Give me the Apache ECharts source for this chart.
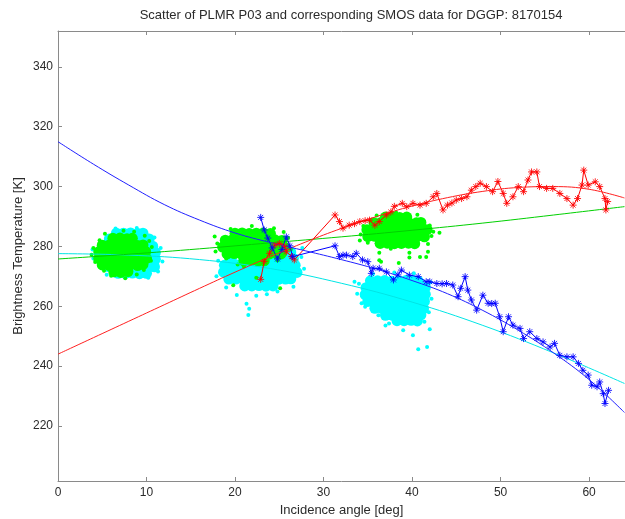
<!DOCTYPE html>
<html>
<head>
<meta charset="utf-8">
<script src="https://cdn.jsdelivr.net/npm/echarts@6/dist/echarts.min.js"></script>
<style>
html,body{margin:0;padding:0;background:#fff;}
#chart{width:625px;height:519px;}
</style>
</head>
<body>
<div id="chart"></div>
<script>
var titleText = 'Scatter of PLMR P03 and corresponding SMOS data for DGGP: 8170154';
var xName = 'Incidence angle [deg]';
var yName = 'Brightness Temperature [K]';
var xTicks = [0, 10, 20, 30, 40, 50, 60];
var yTicks = [220, 240, 260, 280, 300, 320, 340];

// SMOS-like clouds (cyan) - dense cores
var cyanCore = [
  [6.8,271.0],[7.6,271.0],[8.4,271.1],[9.2,270.9],[10.0,271.0],
  [5.6,273.3],[6.4,273.3],[7.2,273.4],[8.0,273.2],[8.8,273.3],[9.6,273.4],[10.4,273.3],[10.9,273.2],
  [5.0,275.6],[5.8,275.6],[6.6,275.7],[7.4,275.5],[8.2,275.6],[9.0,275.7],[9.8,275.6],[10.6,275.5],[11.0,275.7],
  [4.8,277.9],[5.6,277.9],[6.4,278.0],[7.2,277.8],[8.0,277.9],[8.8,278.0],[9.6,277.9],[10.4,277.8],[11.0,278.0],
  [5.2,280.2],[6.0,280.2],[6.8,280.3],[7.6,280.1],[8.4,280.2],[9.2,280.3],[10.0,280.2],[10.7,280.1],
  [5.8,282.5],[6.6,282.5],[7.4,282.6],[8.2,282.4],[9.0,282.5],[9.8,282.6],[10.3,282.5],
  [6.6,284.4],[7.4,284.4],[8.2,284.5],[9.0,284.3],[9.6,284.4],
  [21.1,266.8],[21.9,266.8],[22.7,266.9],[23.5,266.7],[24.3,266.8],
  [19.3,269.1],[20.1,269.1],[20.9,269.2],[21.7,269.0],[22.5,269.1],[23.3,269.2],[24.1,269.1],[24.9,269.0],[25.7,269.1],[26.3,269.2],
  [18.7,271.4],[19.5,271.4],[20.3,271.5],[21.1,271.3],[21.9,271.4],[22.7,271.5],[23.5,271.4],[24.3,271.3],[25.1,271.4],[25.9,271.5],[26.7,271.4],[27.0,271.3],
  [18.8,273.7],[19.6,273.7],[20.4,273.8],[21.2,273.6],[22.0,273.7],[22.8,273.8],[23.6,273.7],[24.4,273.6],[25.2,273.7],[26.0,273.8],[26.8,273.7],
  [19.6,276.0],[21.2,276.0],[22.8,276.1],[24.4,275.9],[25.2,276.0],[26.0,276.1],[26.6,276.0],
  [20.5,278.2],[23.0,278.2],[25.6,278.3],[26.3,278.1],
  [35.3,268.5],[36.1,268.5],[36.9,268.6],[37.7,268.4],[38.5,268.5],[39.3,268.6],[40.1,268.5],[40.7,268.4],
  [34.8,266.2],[35.6,266.2],[36.4,266.3],[37.2,266.1],[38.0,266.2],[38.8,266.3],[39.6,266.2],[40.4,266.1],[41.2,266.2],[41.5,266.3],
  [34.7,263.9],[35.5,263.9],[36.3,264.0],[37.1,263.8],[37.9,263.9],[38.7,264.0],[39.5,263.9],[40.3,263.8],[41.1,263.9],[41.5,264.0],
  [35.0,261.6],[35.8,261.6],[36.6,261.7],[37.4,261.5],[38.2,261.6],[39.0,261.7],[39.8,261.6],[40.6,261.5],[41.4,261.6],
  [35.8,259.3],[36.6,259.3],[37.4,259.4],[38.2,259.2],[39.0,259.3],[39.8,259.4],[40.6,259.3],[41.3,259.2],
  [37.0,257.0],[37.8,257.0],[38.6,257.1],[39.4,256.9],[40.2,257.0],[41.0,257.1],
  [38.3,255.2],[39.1,255.2],[39.9,255.3],[40.6,255.1]
];
// cyan scattered outliers
var cyanEdge = [
  [11.8,275.0],[11.6,279.5],[4.0,276.0],[6.5,286.0],[8.9,286.2],[10.9,283.0],[10.2,269.5],[5.5,270.5],[11.3,271.6],[3.9,279.0],
  [21.5,257.1],[21.3,260.8],[21.6,259.2],[20.2,263.8],[22.4,263.5],[19.0,266.3],[24.8,264.9],[26.6,266.5],[27.8,272.5],[27.5,276.5],[18.1,275.2],[23.6,264.0],[17.9,270.0],[27.6,279.5],
  [34.0,267.5],[33.8,264.2],[34.3,261.0],[42.1,268.0],[42.2,262.5],[41.9,258.0],[35.6,270.8],[38.0,271.3],[40.2,271.0],[36.2,257.0],
  [37.4,254.2],[41.4,254.8],[39.0,252.0],[40.1,250.3],[40.7,245.6],[41.7,246.4],[42.0,252.3],[37.0,253.6],[33.5,268.2],[34.7,259.8]
];
// PLMR-like clouds (green) - dense cores
var greenCore = [
  [6.3,271.5],[7.1,271.3],[7.9,271.6],
  [5.0,273.8],[5.8,273.6],[6.6,273.9],[7.4,273.7],[8.2,273.9],[9.0,273.6],[9.6,274.0],
  [4.6,276.0],[5.4,276.1],[6.2,275.9],[7.0,276.0],[7.8,276.2],[8.6,275.9],[9.4,276.1],[10.0,276.0],
  [4.6,278.2],[5.3,278.3],[6.1,278.1],[6.9,278.2],[7.7,278.4],[8.5,278.1],[9.3,278.2],[9.9,278.3],
  [5.0,280.4],[5.8,280.5],[6.6,280.3],[7.4,280.4],[8.2,280.6],[9.0,280.3],[9.6,280.5],
  [6.2,282.7],[7.0,282.8],[7.8,282.6],[8.4,282.7],
  [21.0,275.2],[21.8,275.3],[22.6,275.1],[23.3,275.2],
  [19.1,277.5],[19.9,277.6],[20.7,277.4],[21.5,277.5],[22.3,277.6],[23.1,277.4],[23.9,277.5],[24.7,277.6],[25.2,277.5],
  [18.6,279.8],[19.4,279.9],[20.2,279.7],[21.0,279.8],[21.8,279.9],[22.6,279.7],[23.4,279.8],[24.2,279.9],[25.0,279.7],[25.6,279.8],
  [18.9,282.1],[19.7,282.2],[20.5,282.0],[21.3,282.1],[22.1,282.2],[22.9,282.0],[23.7,282.1],[24.5,282.2],[25.3,282.0],
  [20.0,284.4],[20.8,284.5],[21.6,284.3],[22.4,284.4],[23.2,284.5],[24.0,284.3],
  [36.4,281.0],[37.2,281.1],[38.0,280.9],[38.8,281.0],[39.6,281.1],[40.3,280.9],
  [35.0,283.3],[35.8,283.4],[36.6,283.2],[37.4,283.3],[38.2,283.4],[39.0,283.2],[39.8,283.3],[40.6,283.4],[41.4,283.2],
  [34.9,285.6],[35.7,285.7],[36.5,285.5],[37.3,285.6],[38.1,285.7],[38.9,285.5],[39.7,285.6],[40.5,285.7],[41.3,285.5],[41.7,285.6],
  [35.7,287.9],[36.5,288.0],[37.3,287.8],[38.1,287.9],[38.9,288.0],[39.7,287.8],[40.5,287.9],[41.0,288.0],
  [37.0,289.8],[37.8,289.9],[38.6,289.7],[39.4,289.8]
];
// green scattered outliers
var greenEdge = [
  [4.0,279.5],[4.2,274.8],[3.8,277.2],[10.5,275.2],[10.6,279.8],[9.8,283.6],[5.3,284.2],[7.4,285.2],[8.6,284.9],[6.0,270.2],
  [7.6,269.4],[8.9,270.6],[9.7,272.1],[4.7,282.1],[5.2,271.9],[10.3,281.8],
  [18.0,281.0],[17.8,278.3],[26.3,279.0],[26.0,282.8],[19.5,285.8],[21.9,286.8],[24.4,286.1],[25.5,284.8],[20.3,274.0],[24.8,275.3],
  [19.0,276.0],[21.0,273.3],[17.7,283.3],[22.4,269.5],[19.8,267.0],[25.1,266.0],
  [34.2,284.0],[34.5,286.8],[42.2,283.5],[42.0,287.0],[36.0,290.3],[40.6,290.6],[38.2,291.3],[35.0,281.2],[41.8,280.8],
  [36.3,277.9],[39.7,277.9],[40.9,276.5],[41.8,278.2],[36.5,274.9],[38.5,274.5],[39.7,276.3],[36.3,275.4],[41.6,276.5],
  [42.4,284.9],[43.1,284.6],[34.1,282.0],[36.0,281.0],[37.6,279.2]
];
// PLMR observations with markers
var redObs = [
  [22.9,269.0],[23.3,275.0],[23.9,277.7],[24.5,280.4],[25.0,281.0],[25.6,280.0],[25.8,278.2],[26.4,276.6],[26.7,275.5],
  [31.3,290.5],[31.8,288.3],[32.2,286.1],[32.9,287.1],[33.5,287.6],[34.1,288.3],[34.7,288.6],[35.2,288.8],[35.8,287.1],[36.3,288.3],
  [37.1,290.5],[37.6,291.5],[38.0,293.4],[38.9,294.4],[39.4,293.3],[40.1,294.4],[40.9,293.8],[41.6,294.4],[42.4,296.6],[42.8,297.7],
  [43.5,292.2],[44.0,293.8],[44.5,294.5],[45.0,295.5],[45.6,296.0],[46.2,296.6],[46.7,298.8],[47.2,300.0],[47.7,301.1],[48.4,300.0],
  [49.1,298.3],[49.7,301.7],[50.3,297.7],[50.7,294.4],[51.4,296.6],[52.0,300.0],[52.6,298.3],[53.1,302.2],[53.5,304.9],[54.1,304.9],
  [54.4,300.0],[55.2,299.4],[55.9,299.4],[56.7,297.7],[57.5,296.0],[58.2,293.8],[58.7,296.0],[59.2,300.5],[59.4,305.5],[59.9,300.5],
  [60.7,301.6],[61.2,300.0],[61.8,296.0],[61.9,292.2],[62.1,295.0]
];
var blueObs = [
  [22.9,289.7],[23.3,285.5],[23.7,282.8],[24.2,279.5],[24.8,275.8],[25.3,279.0],[25.8,283.2],[26.2,280.2],[26.5,276.6],
  [31.3,280.2],[31.8,276.6],[32.2,277.1],[32.6,277.1],[33.3,276.6],[33.7,277.7],[34.4,275.5],[35.0,274.9],[35.4,271.0],[35.6,272.7],
  [36.3,272.7],[37.1,271.5],[37.9,268.8],[38.4,270.5],[38.8,272.1],[39.7,270.4],[40.7,269.9],[41.6,268.2],[42.0,268.2],[42.8,267.6],
  [43.4,267.5],[43.9,267.6],[44.6,267.1],[45.2,263.2],[45.5,266.0],[46.0,269.9],[46.3,265.4],[46.7,262.1],[47.3,258.7],[48.0,263.7],
  [48.6,261.0],[49.0,260.9],[49.4,261.0],[49.9,256.5],[50.3,251.5],[50.9,256.5],[51.4,253.7],[52.2,252.6],[52.6,249.2],[53.3,251.5],
  [54.1,249.2],[54.8,248.1],[55.6,246.4],[56.1,247.6],[56.7,243.6],[57.5,243.1],[58.2,243.1],[58.8,240.9],[59.3,238.6],[59.9,237.0],
  [60.3,233.6],[60.9,233.1],[61.2,234.7],[61.6,230.8],[61.8,227.5],[62.2,231.9]
];
// fitted curves
var redFit = [[0,244],[4,249.5],[8,255],[12,260.5],[16,266],[20,271.4],[24,276.6],[28,281.5],[32,286],[36,290],[40,293.5],[44,296.3],[48,298.4],[52,299.7],[56,300],[60,299.1],[64,296.2]];
var blueFit = [[0,315],[4,307.5],[8,300.5],[12,294],[16,288.8],[20,284.5],[24,281.3],[28,278.5],[32,275.6],[36,272.4],[40,268.6],[44,264.2],[48,258.6],[52,252],[56,244.4],[60,235.5],[64,224.5]];
var greenFit = [[0,275.8],[8,277.4],[16,279.2],[24,281.2],[32,283.2],[40,285.4],[48,287.8],[56,290.5],[64,293.3]];
var cyanFit = [[0,277.6],[8,277.1],[16,275.6],[24,272.6],[32,267.7],[40,261.4],[48,253.6],[56,244.4],[64,234.2]];

var FONT = 'Liberation Sans, Arial, Helvetica, sans-serif';
var AX = '#8a8a8a';
var TXT = '#2b2b2b';
var STAR = 'path://M0,5L10,5M5,0L5,10M1.5,1.5L8.5,8.5M8.5,1.5L1.5,8.5';

function fitLine(name, data, color) {
  return { name: name, type: 'line', data: data, smooth: 0.4, showSymbol: false, symbol: 'none',
    lineStyle: { color: color, width: 1 }, silent: true, animation: false };
}
function cloud(name, data, color, size) {
  return { name: name, type: 'scatter', data: data, symbol: 'circle', symbolSize: size,
    itemStyle: { color: color, opacity: 1 }, silent: true, animation: false };
}
function obs(name, data, color) {
  return { name: name, type: 'line', data: data, symbol: STAR, symbolSize: 7, showSymbol: true, showAllSymbol: true,
    lineStyle: { color: color, width: 1 },
    itemStyle: { color: color, borderColor: color, borderWidth: 1, opacity: 0.85 },
    silent: true, animation: false };
}

var chart = echarts.init(document.getElementById('chart'), null, { renderer: 'canvas' });
chart.setOption({
  backgroundColor: '#ffffff',
  animation: false,
  title: {
    text: titleText, left: 346, top: 4, textAlign: 'center',
    textStyle: { fontFamily: FONT, fontSize: 13, fontWeight: 'normal', color: TXT }
  },
  grid: { left: 58, right: 0, top: 31, bottom: 38, containLabel: false, outerBoundsMode: 'none' },
  xAxis: [{
    type: 'value', min: 0, max: 64.06, position: 'bottom',
    name: xName, nameLocation: 'middle', nameGap: 23, nameMoveOverlap: false,
    nameTextStyle: { fontFamily: FONT, fontSize: 13, color: TXT },
    axisLine: { show: true, onZero: false, lineStyle: { color: AX, width: 1 } },
    axisTick: { show: true, inside: true, length: 4, customValues: xTicks, lineStyle: { color: AX } },
    axisLabel: { show: true, margin: 6, customValues: xTicks, fontFamily: FONT, fontSize: 12, color: TXT },
    splitLine: { show: false }
  }, {
    type: 'value', min: 0, max: 64.06, position: 'top',
    axisLine: { show: true, onZero: false, lineStyle: { color: AX, width: 1 } },
    axisTick: { show: true, inside: true, length: 4, customValues: xTicks, lineStyle: { color: AX } },
    axisLabel: { show: false },
    splitLine: { show: false }
  }],
  yAxis: {
    type: 'value', min: 201.6, max: 352, position: 'left',
    name: yName, nameLocation: 'middle', nameGap: 33, nameRotate: 90, nameMoveOverlap: false,
    nameTextStyle: { fontFamily: FONT, fontSize: 13, color: TXT },
    axisLine: { show: true, onZero: false, lineStyle: { color: AX, width: 1 } },
    axisTick: { show: true, inside: true, length: 4, customValues: yTicks, lineStyle: { color: AX } },
    axisLabel: { show: true, margin: 5, customValues: yTicks, fontFamily: FONT, fontSize: 12, color: TXT },
    splitLine: { show: false }
  },
  series: [
    fitLine('cyanFit', cyanFit, '#00e5e5'),
    fitLine('greenFit', greenFit, '#00d000'),
    cloud('cyanCore', cyanCore, '#00ffff', 11),
    cloud('cyanEdge', cyanEdge, '#00ffff', 4),
    cloud('greenCore', greenCore, '#00ff00', 11),
    cloud('greenEdge', greenEdge, '#00ff00', 4),
    obs('redObs', redObs, '#ff0000'),
    obs('blueObs', blueObs, '#0000ff'),
    fitLine('redFit', redFit, '#ff2020'),
    fitLine('blueFit', blueFit, '#2020ff')
  ]
});
</script>
</body>
</html>
